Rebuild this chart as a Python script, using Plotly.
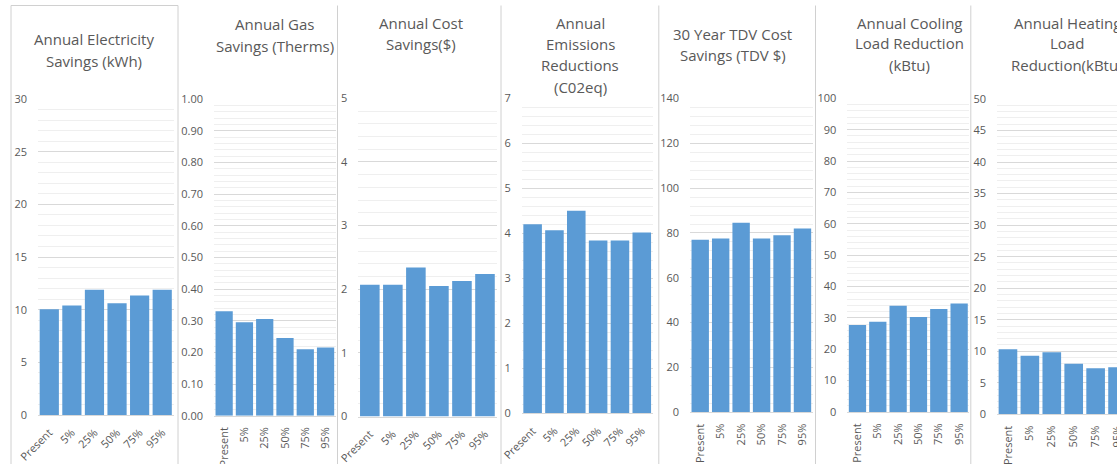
import plotly.graph_objects as go

# ---- data -------------------------------------------------------------
categories = ["Present", "5%", "25%", "50%", "75%", "95%"]

electricity_kwh = [10.05, 10.4, 11.9, 10.6, 11.35, 11.9]
gas_therms = [0.33, 0.295, 0.305, 0.245, 0.21, 0.215]
cost_usd = [2.07, 2.07, 2.34, 2.05, 2.13, 2.24]
emissions_co2eq = [4.2, 4.07, 4.5, 3.84, 3.84, 4.02]
tdv_cost_savings = [77.0, 77.5, 84.6, 77.5, 79.0, 82.0]
cooling_load_kbtu = [27.7, 28.8, 33.9, 30.3, 32.8, 34.6]
heating_load_kbtu = [10.3, 9.3, 9.85, 8.0, 7.3, 7.45]

titles = [
    ["Annual Electricity", "Savings (kWh)"],
    ["Annual Gas", "Savings (Therms)"],
    ["Annual Cost", "Savings($)"],
    ["Annual", "Emissions", "Reductions", "(C02eq)"],
    ["30 Year TDV Cost", "Savings (TDV $)"],
    ["Annual Cooling", "Load Reduction", "(kBtu)"],
    ["Annual Heating", "Load", "Reduction(kBtu)"],
]
series = [electricity_kwh, gas_therms, cost_usd, emissions_co2eq,
          tdv_cost_savings, cooling_load_kbtu, heating_load_kbtu]
y_max = [30, 1.0, 5, 7, 140, 100, 50]
y_major = [5, 0.1, 1, 1, 20, 10, 5]
y_minor = [1, 0.02, 0.2, 0.2, 4, 2, 1]
y_format = ["d", ".2f", "d", "d", "d", "d", "d"]

# ---- layout geometry (pixels) -----------------------------------------
W, H = 1140, 464
plot_x = [(38, 173.5), (214, 335.7), (358.3, 496.5), (521.7, 652.7),
          (690, 812.7), (847.3, 969.3), (997, 1128.5)]
plot_y = [(99, 415), (99, 415.7), (98.3, 416.5), (98.3, 413.3),
          (98.5, 412.3), (98.3, 412), (99, 414.3)]
tick_angle = [-45, -90, -45, -45, -90, -90, -90]
title_x = [94, 274.7, 420.7, 580, 732.7, 909.7, 1067.3]
title_y = [[39, 61], [24, 46], [23.3, 44], [23.3, 44, 65, 87],
           [34.3, 55], [22.7, 43.3, 65], [22.7, 43.3, 65]]
separators = [11, 178, 337.5, 501, 658.8, 815.5, 970.8]

BAR = "#5b9bd5"
TXT = "#595959"
GRID = "#d9d9d9"
MINOR = "#efefef"
FONT = "Open Sans"

fig = go.Figure()
layout = dict(
    width=W, height=H, autosize=False,
    margin=dict(l=0, r=0, t=0, b=0, pad=0),
    paper_bgcolor="white", plot_bgcolor="white",
    showlegend=False, bargap=0.15,
    font=dict(family=FONT, color=TXT, size=11),
)
annotations = []
shapes = []

for i, vals in enumerate(series):
    n = "" if i == 0 else str(i + 1)
    fig.add_trace(go.Bar(
        x=categories, y=vals, marker=dict(color=BAR, line=dict(width=0)),
        xaxis="x" + n, yaxis="y" + n, hoverinfo="x+y",
    ))
    x0, x1 = plot_x[i]
    yt, yb = plot_y[i]
    layout["xaxis" + n] = dict(
        domain=[x0 / W, x1 / W], anchor="y" + n, automargin=False,
        type="category", range=[-0.5, 5.5],
        tickangle=tick_angle[i], showgrid=False, zeroline=False,
        showline=True, linecolor=GRID, linewidth=1,
        ticks="", ticklabelstandoff=6,
        tickfont=dict(family=FONT, size=11, color=TXT),
    )
    layout["yaxis" + n] = dict(
        domain=[1 - yb / H, 1 - yt / H], anchor="x" + n, automargin=False,
        range=[0, y_max[i]], dtick=y_major[i], tick0=0,
        tickformat=y_format[i], showgrid=True, gridcolor=GRID,
        gridwidth=1, zeroline=False, showline=False, ticks="",
        ticklabelstandoff=10,
        tickfont=dict(family=FONT, size=11, color=TXT),
        minor=dict(dtick=y_minor[i], tick0=0, showgrid=True,
                   gridcolor=MINOR, gridwidth=1),
    )
    for line, cy in zip(titles[i], title_y[i]):
        annotations.append(dict(
            text=line, xref="paper", yref="paper",
            x=title_x[i] / W, y=1 - cy / H,
            xanchor="center", yanchor="middle", showarrow=False,
            font=dict(family=FONT, size=15, color=TXT),
        ))

# chart frames: the top edge of the first chart and each chart's left edge
shapes.append(dict(type="line", xref="paper", yref="paper",
                   x0=separators[0] / W, x1=separators[1] / W,
                   y0=1 - 5.5 / H, y1=1 - 5.5 / H,
                   line=dict(color="#d0d0d0", width=1)))
for sx in separators:
    shapes.append(dict(type="line", xref="paper", yref="paper",
                       x0=sx / W, x1=sx / W, y0=0, y1=1 - 5.5 / H,
                       line=dict(color="#d0d0d0", width=1)))

layout["annotations"] = annotations
layout["shapes"] = shapes
fig.update_layout(**layout)

fig.write_html(
    "out.html",
    post_script="document.body.style.margin='0';"
                "document.body.style.overflow='hidden';"
                "document.documentElement.style.overflow='hidden';",
)
